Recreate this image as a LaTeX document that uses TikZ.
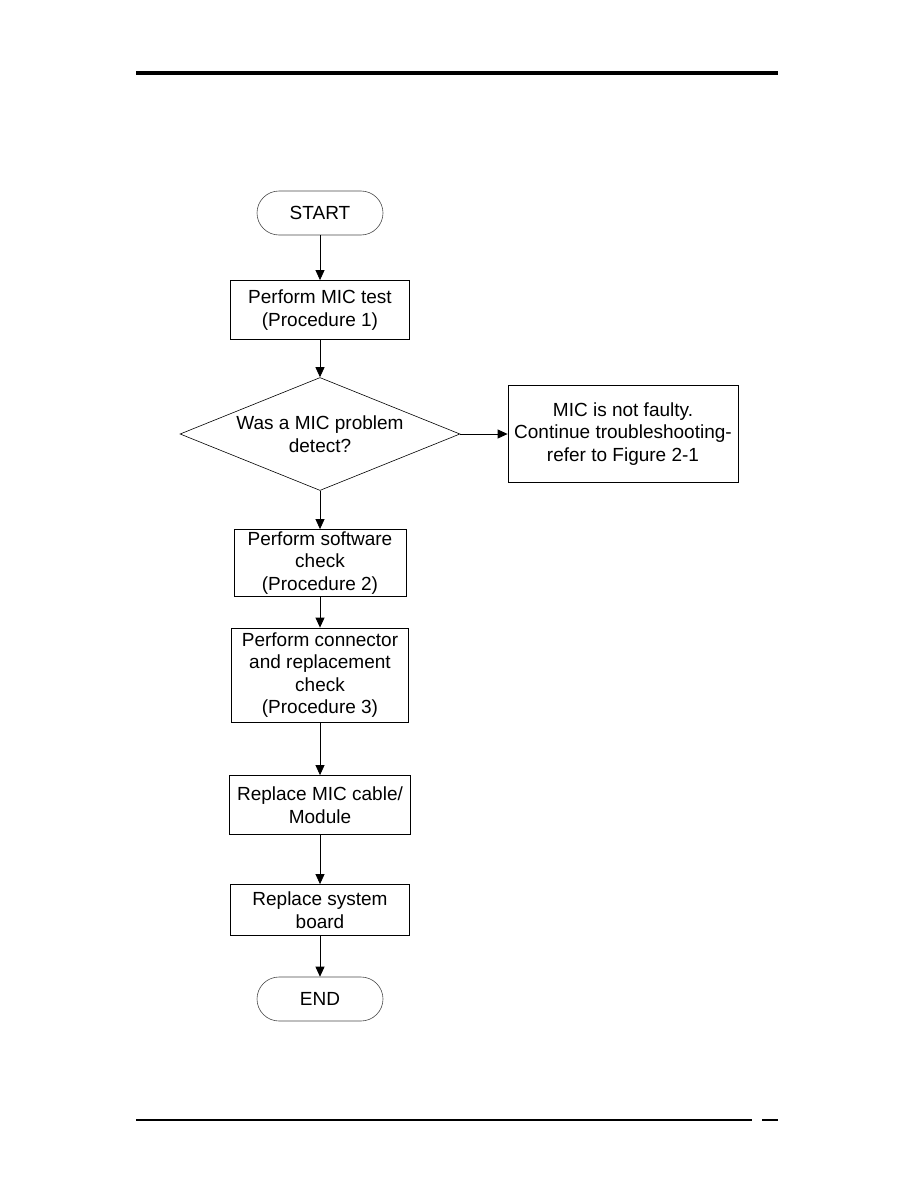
\documentclass[tikz,border=0pt]{standalone}
\usepackage{fontspec}
\setmainfont{Liberation Sans}
\usetikzlibrary{arrows.meta,shapes.geometric}

\begin{document}
\begin{tikzpicture}[x=1pt,y=1pt,>={Triangle[width=9pt,length=10pt]},
  every node/.style={font=\fontsize{19}{22.5}\selectfont,align=center,inner sep=0pt},
  box/.style={draw,line width=0.8pt,minimum width=#1},
  term/.style={draw=black!70,line width=0.6pt,rounded corners=22pt,minimum width=126pt,minimum height=44pt},
  link/.style={->,line width=0.8pt}]
\useasboundingbox (0,0) rectangle (918,-1188);
\fill[white] (0,0) rectangle (918,-1188);
% page rules
\draw[line width=3.5pt] (136,-73)--(778,-73);
\draw[line width=2.5pt] (136,-1120)--(752,-1120);
\draw[line width=2.5pt] (762,-1120)--(778,-1120);
% flow
\node[term] (start) at (320,-213){START};
\node[box=179pt,minimum height=59pt] (test) at (320,-310){Perform MIC test\\(Procedure 1)};
\node[draw,diamond,shape aspect=2.48,line width=0.6pt,minimum width=280pt,minimum height=113pt] (ask) at (320,-434){Was a MIC problem\\detect?};
\node[box=230pt,minimum height=97pt] (ok) at (623,-434){MIC is not faulty.\\Continue troubleshooting-\\refer to Figure 2-1};
\node[box=172pt,minimum height=67pt] (soft) at (320,-563){Perform software\\check\\(Procedure 2)};
\node[box=177pt,minimum height=94pt] (conn) at (320,-675){Perform connector\\and replacement\\check\\(Procedure 3)};
\node[box=181pt,minimum height=59pt] (cable) at (320,-805){Replace MIC cable/\\Module};
\node[box=179pt,minimum height=51pt] (board) at (320,-910){Replace system\\board};
\node[term] (end) at (320,-999){END};
\draw[link] (start)--(test);
\draw[link] (test)--(ask);
\draw[link] (ask)--(ok);
\draw[link] (ask)--(soft);
\draw[link] (soft)--(conn);
\draw[link] (conn)--(cable);
\draw[link] (cable)--(board);
\draw[link] (board)--(end);
\end{tikzpicture}
\end{document}
